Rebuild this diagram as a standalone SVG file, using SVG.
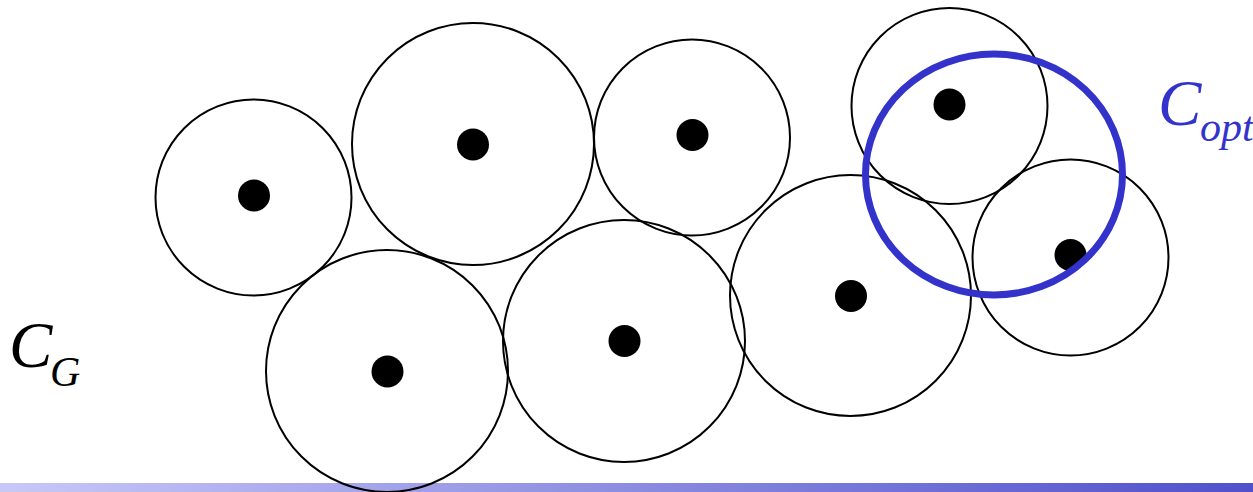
<svg xmlns="http://www.w3.org/2000/svg" width="1253" height="492" viewBox="0 0 1253 492">
<style>
.ring{fill:none;stroke:#000;stroke-width:2}
.dot{fill:#000}
.opt{fill:none;stroke:#3333CC;stroke-width:7}
.lbl{font-family:"Liberation Serif","Times New Roman",serif;font-style:italic}
</style>
<defs>
<linearGradient id="bar" x1="0" y1="0" x2="1" y2="0">
<stop offset="0" stop-color="#C8C8F8"/>
<stop offset="1" stop-color="#5050CC"/>
</linearGradient>
</defs>
<rect width="1253" height="492" fill="#fff"/>
<rect x="0" y="483" width="1253" height="9" fill="url(#bar)"/>
<g id="disk1"><circle class="ring" cx="253.5" cy="197.5" r="98"/><circle class="dot" cx="254" cy="195.5" r="16"/></g>
<g id="disk2"><circle class="ring" cx="473" cy="144" r="121"/><circle class="dot" cx="473" cy="144.5" r="16"/></g>
<g id="disk3"><circle class="ring" cx="692" cy="137.5" r="98"/><circle class="dot" cx="692.5" cy="135" r="16"/></g>
<g id="disk4"><circle class="ring" cx="949.5" cy="106" r="98"/><circle class="dot" cx="949.5" cy="104.5" r="16"/></g>
<g id="disk5"><circle class="ring" cx="1070.5" cy="257.5" r="98"/><circle class="dot" cx="1070.5" cy="255" r="16"/></g>
<g id="disk6"><circle class="ring" cx="387" cy="371" r="121"/><circle class="dot" cx="387.5" cy="371.5" r="16"/></g>
<g id="disk7"><circle class="ring" cx="624" cy="341" r="121"/><circle class="dot" cx="624.5" cy="341" r="16"/></g>
<g id="disk8"><circle class="ring" cx="850.5" cy="295.5" r="120.5"/><circle class="dot" cx="851" cy="296" r="16"/></g>
<g id="copt"><ellipse class="opt" cx="994" cy="174.5" rx="128.5" ry="120.5"/></g>
<g id="label-copt" fill="#3333CC"><text class="lbl" x="1158" y="125" font-size="65">C</text><text class="lbl" x="1200" y="141" font-size="42">opt</text></g>
<g id="label-cg" fill="#000"><text class="lbl" x="9" y="367" font-size="65">C</text><text class="lbl" x="50" y="386" font-size="42">G</text></g>
</svg>
